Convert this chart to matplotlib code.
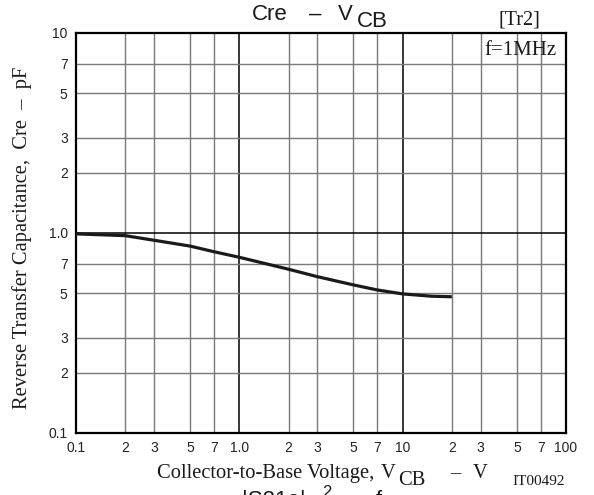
import matplotlib
matplotlib.use("Agg")
import matplotlib.pyplot as plt

# Data
vcb = [0.1, 0.2, 0.3, 0.5, 0.7, 1.0, 2.0, 3.0, 5.0, 7.0, 10.0, 15.0, 20.0]
cre = [0.99, 0.97, 0.92, 0.86, 0.806, 0.756, 0.659, 0.605, 0.55, 0.519, 0.496, 0.483, 0.48]

x_ticks = [0.1, 0.2, 0.3, 0.5, 0.7, 1, 2, 3, 5, 7, 10, 20, 30, 50, 70, 100]
x_labels = ["0.1", "2", "3", "5", "7", "1.0", "2", "3", "5", "7", "10", "2", "3", "5", "7", "100"]
y_ticks = [0.1, 0.2, 0.3, 0.5, 0.7, 1, 2, 3, 5, 7, 10]
y_labels = ["0.1", "2", "3", "5", "7", "1.0", "2", "3", "5", "7", "10"]

W, H = 594, 495
fig = plt.figure(figsize=(W / 100, H / 100), dpi=100)
L, R, T, B = 76, 566, 33, 433
ax = fig.add_axes([L / W, 1 - B / H, (R - L) / W, (B - T) / H])
ax.set_xscale("log")
ax.set_yscale("log")
ax.set_xlim(0.1, 100)
ax.set_ylim(0.1, 10)

for xv in x_ticks:
    if xv in [0.1, 1, 10, 100]:
        ax.axvline(xv, color="black", lw=1.1, zorder=1)
    else:
        ax.axvline(xv, color="#7a7a7a", lw=1.0, zorder=1)
for yv in y_ticks:
    if yv in [0.1, 1, 10]:
        ax.axhline(yv, color="black", lw=1.1, zorder=1)
    else:
        ax.axhline(yv, color="#7a7a7a", lw=1.0, zorder=1)

ax.plot(vcb, cre, color="#1a1a1a", lw=2.3, zorder=3, solid_capstyle="butt",
        solid_joinstyle="round")

ax.set_xticks(x_ticks)
ax.set_xticklabels(x_labels)
ax.set_yticks(y_ticks)
ax.set_yticklabels(y_labels)
ax.minorticks_off()
ax.tick_params(length=0, labelsize=10, pad=6, colors="#222222")
for lab in ax.get_xticklabels() + ax.get_yticklabels():
    lab.set_fontfamily("Liberation Sans")
for s in ax.spines.values():
    s.set_linewidth(1.6)

def ftext(x, y, s, **kw):
    kw.setdefault("va", "baseline")
    kw.setdefault("ha", "left")
    fig.text(x / W, 1 - y / H, s, color="#1a1a1a", **kw)

SANS = "Liberation Sans"
SERIF = "Liberation Serif"

# Title
ftext(252, 20, "Cre", fontsize=16, family=SANS)
ftext(315, 20, "\u2013", fontsize=16, family=SANS, ha="center")
ftext(338, 20, "V", fontsize=16, family=SANS)
ftext(357, 27, "CB", fontsize=16, family=SANS)
ftext(499, 25, "[Tr2]", fontsize=14.5, family=SERIF)
ftext(484, 55, "f=1MHz", fontsize=15, family=SERIF)

# X label
ftext(157, 478, "Collector-to-Base Voltage,", fontsize=14.8, family=SERIF)
ftext(381, 478, "V", fontsize=14.8, family=SERIF)
ftext(398, 485, "CB", fontsize=14.8, family=SERIF)
ftext(455, 478, "\u2013", fontsize=14.8, family=SERIF, ha="center")
ftext(473, 478, "V", fontsize=14.8, family=SERIF)
ftext(512, 485, "IT00492", fontsize=11, family=SERIF)

# Y label
ftext(22, 238, "Reverse Transfer Capacitance,  Cre  \u2013  pF", fontsize=14.8,
      family=SERIF, va="center", ha="center", rotation=90)

# Partially visible text at the bottom edge (cut off in the reference too)
ftext(242, 506, "|S21e|", fontsize=16, family=SANS)
ftext(322, 497, "2", fontsize=12, family=SANS)
ftext(345, 506, "\u2013   f", fontsize=16, family=SANS)

fig.savefig("out.png", dpi=100)
